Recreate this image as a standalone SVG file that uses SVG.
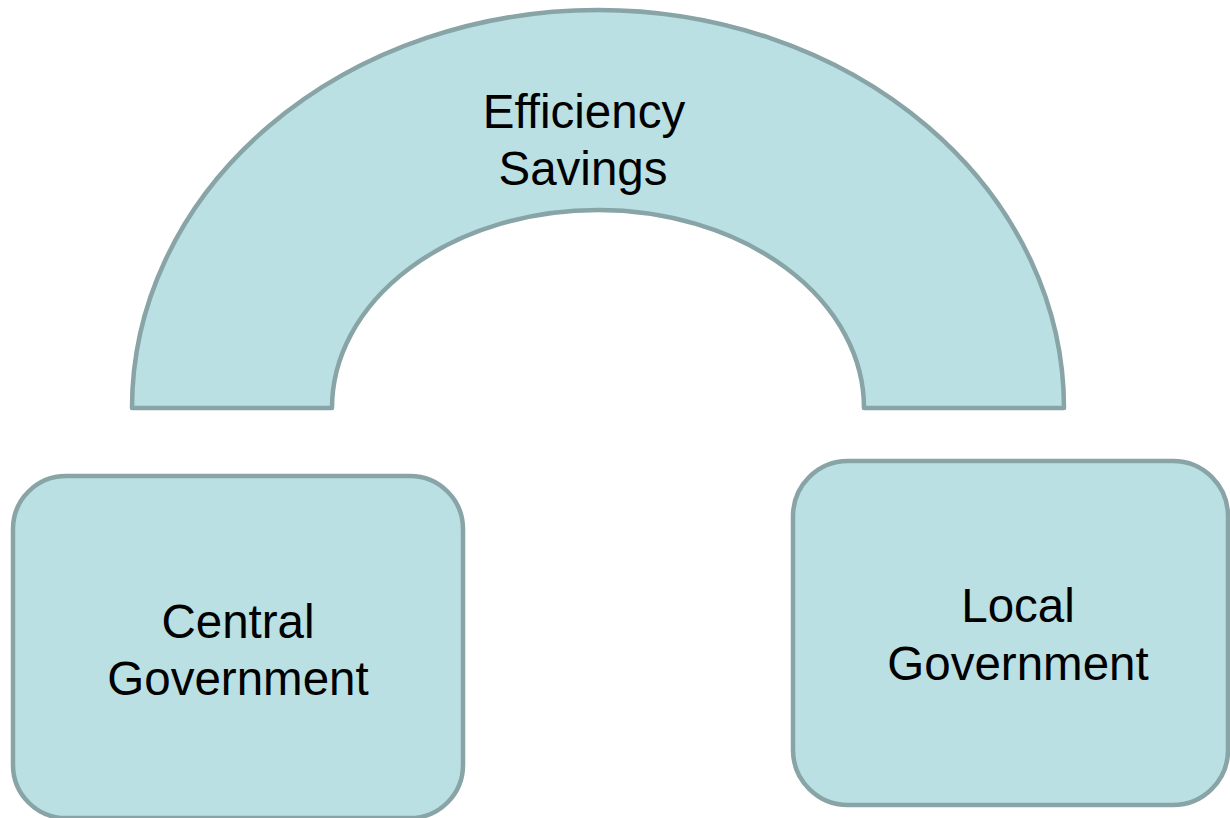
<svg xmlns="http://www.w3.org/2000/svg" width="1230" height="818" viewBox="0 0 1230 818">
<style>
.shape{fill:#bae0e3;stroke:#88a4a6;stroke-width:4.5;stroke-linejoin:round}
.lbl{font-family:"Liberation Sans",Arial,sans-serif;font-size:47.5px;fill:#000;text-anchor:middle}
</style>
<rect width="1230" height="818" fill="#fff"/>
<g id="efficiency-savings">
<path class="shape" d="M132 408 A466 398 0 0 1 1064 408 L864 408 A266 198 0 0 0 332 408 Z"/>
<text class="lbl" x="584" y="128">Efficiency</text>
<text class="lbl" x="583" y="185">Savings</text>
</g>
<g id="central-government">
<rect class="shape" x="13" y="476" width="450" height="342" rx="53" ry="53"/>
<text class="lbl" x="238" y="638">Central</text>
<text class="lbl" x="238" y="695">Government</text>
</g>
<g id="local-government">
<rect class="shape" x="793" y="461" width="435" height="344" rx="55" ry="55"/>
<text class="lbl" x="1018" y="622">Local</text>
<text class="lbl" x="1018" y="680">Government</text>
</g>
<g id="connectors"></g>
</svg>
